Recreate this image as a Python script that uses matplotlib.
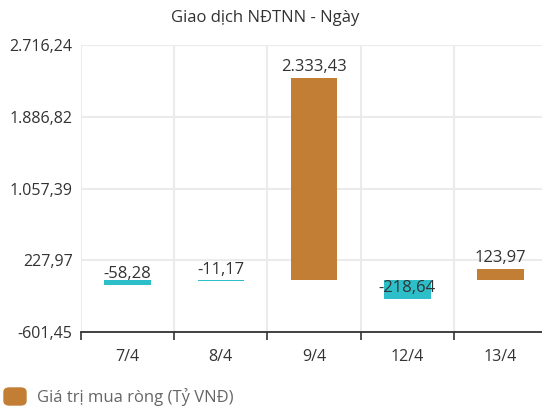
import numpy as np
import matplotlib.pyplot as plt
from matplotlib.patches import FancyBboxPatch

plt.rcParams['font.family'] = ['Open Sans', 'DejaVu Sans']

# Data
days = ['7/4', '8/4', '9/4', '12/4', '13/4']
values = [-58.28, -11.17, 2333.43, -218.64, 123.97]
yticks = [-601.45, 227.97, 1057.39, 1886.82, 2716.24]

pos_color = '#C27E34'
neg_color = '#2DBFC9'
txt = '#333333'

def vn_fmt(v):
    s = '{:,.2f}'.format(v)
    return s.replace(',', 'X').replace('.', ',').replace('X', '.')

fig = plt.figure(figsize=(5.42, 4.12), dpi=100)
ax = fig.add_axes([81/542, 1-332/412, 466/542, 287/412])

x = np.arange(len(days))
colors = [pos_color if v >= 0 else neg_color for v in values]
ax.bar(x, values, width=0.5, color=colors, zorder=3)

for xi, v in zip(x, values):
    ax.annotate(vn_fmt(v), (xi, v), xytext=(0, 2), textcoords='offset points',
                ha='center', va='bottom', fontsize=12, color=txt, zorder=4)

ax.set_xlim(-0.5, len(days) - 0.5)
ax.set_ylim(yticks[0], yticks[-1])
ax.set_yticks(yticks)
ax.set_yticklabels([vn_fmt(t) for t in yticks], fontsize=11.5, color=txt)

# category boundaries as grid lines, labels at centres
ax.set_xticks(np.arange(len(days) + 1) - 0.5)
ax.set_xticklabels([])
ax.set_xticks(x, minor=True)
ax.set_xticklabels(days, minor=True, fontsize=11.5, color=txt)
ax.tick_params(axis='x', which='major', length=6, width=1.2, color=txt)
ax.tick_params(axis='x', which='minor', length=0, pad=12)
ax.tick_params(axis='y', length=0, pad=6)

ax.grid(True, which='major', color='#ebebeb', linewidth=1.5, zorder=0)
for s in ['top', 'right', 'left']:
    ax.spines[s].set_visible(False)
ax.spines['bottom'].set_color(txt)
ax.spines['bottom'].set_linewidth(1.3)
ax.spines['bottom'].set_zorder(5)

fig.text(0.49, 1-18/412, 'Giao dịch NĐTNN - Ngày', ha='center', va='center',
         fontsize=12, color=txt)

# legend
box = FancyBboxPatch((4/542, 1-405/412), 22/542, 17/412,
                     boxstyle='round,pad=0,rounding_size=0.01',
                     transform=fig.transFigure, color=pos_color)
fig.patches.append(box)
fig.text(37/542, 1-397/412, 'Giá trị mua ròng (Tỷ VNĐ)', ha='left', va='center',
         fontsize=12, color='#666666')

plt.savefig('out.png', dpi=100)
